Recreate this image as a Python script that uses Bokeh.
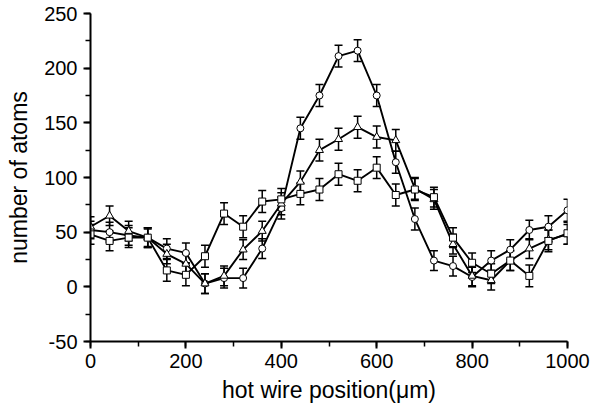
from bokeh.plotting import figure
from bokeh.models import Whisker, TeeHead, ColumnDataSource, Range1d, FixedTicker
from bokeh.embed import file_html
from bokeh.resources import INLINE

x = [0, 40, 80, 120, 160, 200, 240, 280, 320, 360, 400, 440, 480, 520,
     560, 600, 640, 680, 720, 760, 800, 840, 880, 920, 960, 1000]

circle_y = [52, 50, 47, 45, 35, 31, 3, 8, 8, 35, 72, 145, 175, 211,
            216, 175, 114, 62, 24, 19, 9, 24, 34, 52, 55, 70]
circle_err = [8, 9, 9, 8, 9, 9, 9, 9, 9, 9, 10, 10, 10, 10,
              10, 10, 10, 10, 9, 9, 9, 9, 9, 9, 10, 10]

triangle_y = [55, 65, 51, 45, 30, 21, 3, 10, 34, 51, 76, 96, 125, 135,
              146, 137, 134, 90, 80, 39, 10, 6, 24, 35, 43, 48]
triangle_err = [9, 9, 9, 9, 9, 9, 9, 9, 9, 9, 10, 10, 10, 10,
                10, 10, 10, 10, 9, 9, 9, 9, 9, 9, 9, 9]

square_y = [48, 42, 45, 45, 15, 11, 28, 67, 55, 78, 80, 85, 89, 103,
            97, 109, 84, 89, 82, 45, 22, 12, 24, 10, 42, 49]
square_err = [9, 9, 9, 9, 10, 10, 10, 10, 10, 10, 10, 10, 10, 10,
              10, 10, 10, 10, 9, 9, 9, 9, 9, 10, 10, 10]

x_ticks = [0, 200, 400, 600, 800, 1000]
y_ticks = [-50, 0, 50, 100, 150, 200, 250]

x_label = "hot wire position(\u03bcm)"
y_label = "number of atoms"

FONT = "Liberation Sans"

p = figure(width=600, height=405, output_backend="svg", toolbar_location=None,
           x_range=Range1d(0, 1000), y_range=Range1d(-50, 250),
           min_border_left=90, min_border_right=33, min_border_top=13,
           min_border_bottom=62)
p.outline_line_color = None
p.xgrid.visible = False
p.ygrid.visible = False

series = [
    (circle_y, circle_err, "circle", 7),
    (triangle_y, triangle_err, "triangle", 8),
    (square_y, square_err, "square", 7),
]

for ys, errs, mk, sz in series:
    src = ColumnDataSource(dict(
        x=x, y=ys,
        lo=[a - b for a, b in zip(ys, errs)],
        hi=[a + b for a, b in zip(ys, errs)],
    ))
    w = Whisker(source=src, base="x", lower="lo", upper="hi",
                line_color="black", line_width=1.5,
                upper_head=TeeHead(size=8, line_width=1.5, line_color="black"),
                lower_head=TeeHead(size=8, line_width=1.5, line_color="black"))
    p.add_layout(w)
    p.line("x", "y", source=src, line_color="black", line_width=1.9)
    p.scatter("x", "y", source=src, marker=mk, size=sz, fill_color="white",
              line_color="black", line_width=1)

for ax in (p.xaxis[0], p.yaxis[0]):
    ax.axis_line_width = 2
    ax.axis_line_color = "black"
    ax.major_tick_line_width = 2
    ax.minor_tick_line_width = 1.5
    ax.major_tick_out = 7
    ax.major_tick_in = 0
    ax.minor_tick_out = 5
    ax.minor_tick_in = 0
    ax.major_label_text_font = FONT
    ax.major_label_text_font_size = "20px"
    ax.major_label_text_color = "black"
    ax.axis_label_text_font = FONT
    ax.axis_label_text_font_size = "23px"
    ax.axis_label_text_font_style = "normal"
    ax.axis_label_text_color = "black"

p.xaxis.ticker = FixedTicker(ticks=x_ticks, minor_ticks=list(range(0, 1001, 100)))
p.yaxis.ticker = FixedTicker(ticks=y_ticks, minor_ticks=list(range(-50, 251, 25)))
p.yaxis.major_label_overrides = {t: str(t) for t in y_ticks}
p.xaxis.axis_label = x_label
p.yaxis.axis_label = y_label
p.xaxis.major_label_standoff = 5
p.yaxis.major_label_standoff = 6
p.xaxis.axis_label_standoff = 6
p.yaxis.axis_label_standoff = 9

open("out.html", "w").write(file_html(p, INLINE))
